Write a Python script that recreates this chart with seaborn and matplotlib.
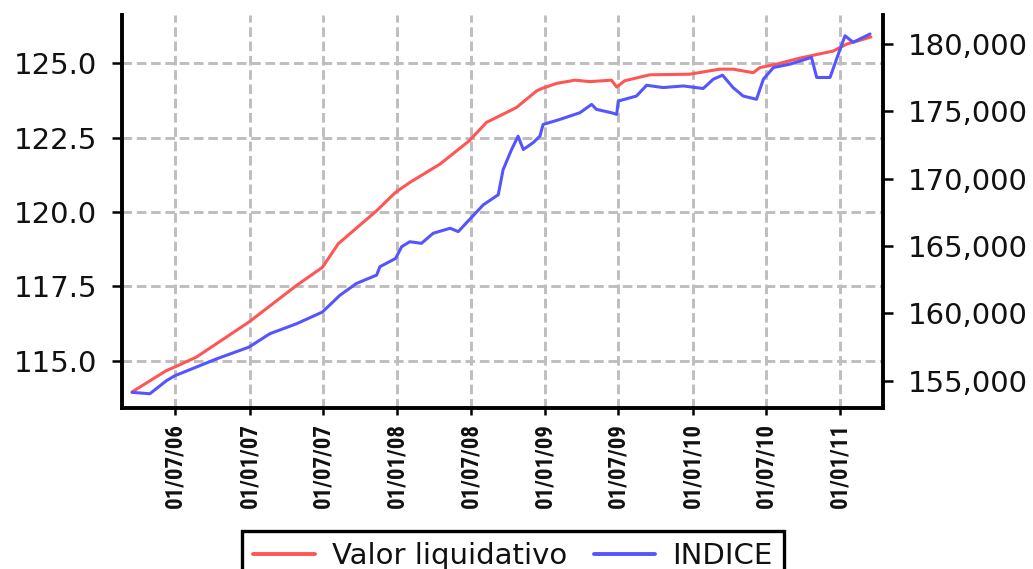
import matplotlib
matplotlib.use("Agg")
import matplotlib.pyplot as plt
import matplotlib.dates as mdates
from matplotlib.lines import Line2D
from matplotlib.ticker import FuncFormatter, FixedLocator
from matplotlib import font_manager as fm
import pandas as pd
import seaborn as sns

# ---------------- data ----------------
valor_dates = ["2006-03-16", "2006-06-09", "2006-06-30", "2006-08-22", "2006-12-30",
               "2007-04-27", "2007-06-30", "2007-08-08", "2007-11-11", "2007-12-28",
               "2008-02-01", "2008-04-16", "2008-06-27", "2008-08-09", "2008-10-22",
               "2008-12-11", "2008-12-26", "2009-01-29", "2009-03-16", "2009-04-22",
               "2009-06-14", "2009-06-27", "2009-07-17", "2009-09-17", "2009-12-25",
               "2010-03-09", "2010-04-11", "2010-05-31", "2010-06-16", "2010-07-28",
               "2010-09-23", "2010-12-15", "2011-01-17", "2011-03-18"]
valor_values = [113.95, 114.67, 114.79, 115.12, 116.30,
                117.53, 118.14, 118.93, 120.04, 120.66,
                120.99, 121.61, 122.39, 123.01, 123.51,
                124.07, 124.16, 124.32, 124.43, 124.38,
                124.43, 124.20, 124.41, 124.61, 124.63,
                124.80, 124.80, 124.68, 124.85, 124.97,
                125.17, 125.41, 125.64, 125.88]

indice_dates = ["2006-03-16", "2006-04-29", "2006-06-09", "2006-06-30", "2006-08-31",
                "2006-10-11", "2006-12-30", "2007-02-20", "2007-04-27", "2007-06-30",
                "2007-08-12", "2007-09-22", "2007-11-11", "2007-11-19", "2007-12-28",
                "2008-01-12", "2008-02-01", "2008-03-01", "2008-03-30", "2008-05-11",
                "2008-05-31", "2008-06-27", "2008-08-01", "2008-09-07", "2008-09-19",
                "2008-10-10", "2008-10-26", "2008-11-08", "2008-12-02", "2008-12-19",
                "2008-12-27", "2009-02-06", "2009-03-28", "2009-04-26", "2009-05-08",
                "2009-06-14", "2009-06-27", "2009-07-01", "2009-08-15", "2009-09-09",
                "2009-10-20", "2009-12-09", "2010-01-27", "2010-02-21", "2010-03-16",
                "2010-04-11", "2010-05-06", "2010-06-08", "2010-06-25", "2010-07-20",
                "2010-08-30", "2010-10-22", "2010-11-04", "2010-12-07", "2010-12-23",
                "2011-01-13", "2011-02-02", "2011-03-16"]
indice_values = [154130, 154030, 155000, 155370, 156120,
                 156620, 157490, 158490, 159230, 160100,
                 161340, 162220, 162840, 163460, 164080,
                 164950, 165320, 165200, 165950, 166320,
                 166070, 166940, 168060, 168810, 170670,
                 172170, 173160, 172170, 172670, 173160,
                 174030, 174400, 174900, 175520, 175150,
                 174900, 174780, 175770, 176140, 176940,
                 176770, 176890, 176700, 177390, 177690,
                 176770, 176140, 175900, 177390, 178260,
                 178510, 179010, 177520, 177520, 178880,
                 180620, 180130, 180750]

xtick_dates = ["2006-07-01", "2007-01-01", "2007-07-01", "2008-01-01", "2008-07-01",
               "2009-01-01", "2009-07-01", "2010-01-01", "2010-07-01", "2011-01-01"]
left_ticks = [115.0, 117.5, 120.0, 122.5, 125.0]
right_ticks = [155000, 160000, 165000, 170000, 175000, 180000]
series_labels = ["Valor liquidativo", "INDICE"]

RED = "#FF5555"
BLUE = "#5555FF"
GRID = "#BEBEBE"
TXT = "#111111"

sns.set_style("white")
plt.rcParams["font.family"] = ["DejaVu Sans"]


def font_ok(name):
    try:
        path = fm.findfont(fm.FontProperties(family=name), fallback_to_default=False)
        return path is not None
    except Exception:
        return False


if font_ok("Liberation Sans Narrow"):
    xfam, xsize, xweight = "Liberation Sans Narrow", 19.5, "bold"
elif font_ok("Roboto Condensed"):
    xfam, xsize, xweight = "Roboto Condensed", 16.5, "bold"
else:
    xfam, xsize, xweight = "DejaVu Sans", 13, "bold"

fig = plt.figure(figsize=(10.33, 5.69), dpi=100)
L, R, T, B = 122 / 1033, 883 / 1033, 1 - 15 / 569, 1 - 408 / 569
ax = fig.add_axes([L, B, R - L, T - B])
ax2 = ax.twinx()

df_v = pd.DataFrame({"fecha": pd.to_datetime(valor_dates), "valor": valor_values})
df_i = pd.DataFrame({"fecha": pd.to_datetime(indice_dates), "indice": indice_values})

sns.lineplot(data=df_v, x="fecha", y="valor", ax=ax, color=RED, linewidth=2.2, legend=False)
sns.lineplot(data=df_i, x="fecha", y="indice", ax=ax2, color=BLUE, linewidth=2.2, legend=False)

ax.set_xlim(pd.Timestamp("2006-02-19"), pd.Timestamp("2011-04-17"))
ax.set_ylim(113.41, 126.62)
ax2.set_ylim(152970, 182160)

ax.xaxis.set_major_locator(FixedLocator(mdates.date2num(pd.to_datetime(xtick_dates))))
ax.xaxis.set_major_formatter(mdates.DateFormatter("%d/%m/%y"))
ax.set_yticks(left_ticks)
ax.yaxis.set_major_formatter(FuncFormatter(lambda v, p: f"{v:.1f}"))
ax2.set_yticks(right_ticks)
ax2.yaxis.set_major_formatter(FuncFormatter(lambda v, p: f"{v:,.0f}"))

ax.set_xlabel("")
ax.set_ylabel("")
ax2.set_xlabel("")
ax2.set_ylabel("")

ax.grid(True, axis="both", color=GRID, linestyle=(0, (3.3, 1.6)), linewidth=2.1)
ax2.grid(False)
ax.set_axisbelow(True)

for a in (ax, ax2):
    for s in a.spines.values():
        s.set_visible(False)
ax.spines["left"].set_visible(True)
ax.spines["bottom"].set_visible(True)
ax2.spines["right"].set_visible(True)
for s in (ax.spines["left"], ax.spines["bottom"], ax2.spines["right"]):
    s.set_color("black")
    s.set_linewidth(2.8)

ax.tick_params(axis="y", direction="out", length=7, width=1.8, color="black",
               pad=11, labelsize=21, labelcolor=TXT, left=True)
ax2.tick_params(axis="y", direction="out", length=7, width=1.8, color="black",
                pad=11, labelsize=21, labelcolor=TXT, right=True)
ax.tick_params(axis="x", direction="out", length=5, width=1.8, color="black",
               pad=6, labelcolor=TXT, bottom=True, labelsize=xsize,
               labelrotation=90, labelfontfamily=xfam)
for lab in ax.get_xticklabels():
    lab.set_fontweight(xweight)

handles = [Line2D([], [], color=RED, linewidth=2.8), Line2D([], [], color=BLUE, linewidth=2.8)]
leg = fig.legend(handles=handles, labels=series_labels, loc="upper left",
                 bbox_to_anchor=(241.6 / 1033, 1 - 530.7 / 569), bbox_transform=fig.transFigure,
                 ncol=2, frameon=True, fancybox=False, shadow=False, fontsize=21,
                 borderpad=0.4, borderaxespad=0, handlelength=2.1, handletextpad=0.6,
                 columnspacing=0.9, labelcolor=TXT)
leg.get_frame().set_edgecolor("black")
leg.get_frame().set_linewidth(2.4)
leg.get_frame().set_facecolor("white")
leg.get_frame().set_alpha(1)

fig.savefig("out.png", dpi=100)
